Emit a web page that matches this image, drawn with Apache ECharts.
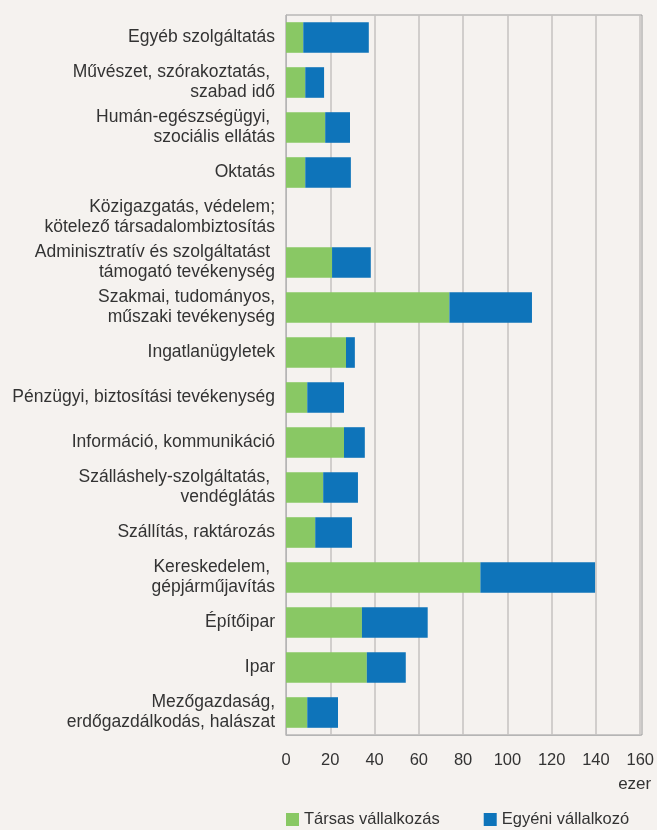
<!DOCTYPE html>
<html>
<head>
<meta charset="utf-8">
<script src="https://cdn.jsdelivr.net/npm/echarts@6/dist/echarts.min.js"></script>
<style>
html,body{margin:0;padding:0;background:#f5f2ef;}
#chart{width:657px;height:830px;}
</style>
</head>
<body>
<div id="chart"></div>
<script>
// kategóriák fentről lefelé
const categories = [
  "Egyéb szolgáltatás",
  "Művészet, szórakoztatás, \nszabad idő",
  "Humán-egészségügyi, \nszociális ellátás",
  "Oktatás",
  "Közigazgatás, védelem;\nkötelező társadalombiztosítás",
  "Adminisztratív és szolgáltatást \ntámogató tevékenység",
  "Szakmai, tudományos,\nműszaki tevékenység",
  "Ingatlanügyletek",
  "Pénzügyi, biztosítási tevékenység",
  "Információ, kommunikáció",
  "Szálláshely-szolgáltatás, \nvendéglátás",
  "Szállítás, raktározás",
  "Kereskedelem, \ngépjárműjavítás",
  "Építőipar",
  "Ipar",
  "Mezőgazdaság,\nerdőgazdálkodás, halászat"
];
const tarsas = [7.8, 8.7, 17.7, 8.7, 0, 20.8, 73.8, 27.1, 9.6, 26.2, 16.8, 13.2, 87.8, 34.3, 36.5, 9.6];
const egyeni = [29.6, 8.5, 11.2, 20.6, 0, 17.5, 37.3, 4.0, 16.6, 9.4, 15.7, 16.6, 51.8, 29.7, 17.6, 13.9];
const xTicks = [0, 20, 40, 60, 80, 100, 120, 140, 160];

const font = "'Liberation Sans', Arial, sans-serif";
let myChart = echarts.init(document.getElementById("chart"));
myChart.setOption({
  backgroundColor: "#f5f2ef",
  animation: false,
  grid: { left: 286, right: 15, top: 15, bottom: 95 },
  xAxis: {
    type: "value",
    min: xTicks[0],
    max: xTicks[xTicks.length - 1],
    interval: 20,
    name: "ezer",
    nameLocation: "end",
    nameGap: 11,
    nameTextStyle: { color: "#333", fontFamily: font, fontSize: 17, align: "right", verticalAlign: "top", padding: [41, 0, 0, 0] },
    axisLine: { show: true, lineStyle: { color: "#b5b5b5" } },
    axisTick: { show: false },
    axisLabel: { color: "#333", fontFamily: font, fontSize: 16.5, margin: 17 },
    splitLine: { show: true, lineStyle: { color: "#c4c2c0", width: 1.5 } }
  },
  yAxis: {
    type: "category",
    inverse: true,
    data: categories,
    axisLine: { show: true, lineStyle: { color: "#b5b5b5" } },
    axisTick: { show: false },
    axisLabel: { color: "#333", fontFamily: font, fontSize: 17.5, lineHeight: 20, margin: 11, align: "right" }
  },
  legend: {
    top: 806,
    left: 281,
    itemWidth: 13,
    itemHeight: 13,
    itemGap: 44,
    icon: "rect",
    textStyle: { color: "#333", fontFamily: font, fontSize: 16.5 },
    data: ["Társas vállalkozás", "Egyéni vállalkozó"]
  },
  series: [
    {
      name: "Társas vállalkozás",
      type: "bar",
      stack: "total",
      barWidth: "68%",
      itemStyle: { color: "#89c864" },
      data: tarsas
    },
    {
      name: "Egyéni vállalkozó",
      type: "bar",
      stack: "total",
      barWidth: "68%",
      itemStyle: { color: "#0e74ba" },
      data: egyeni
    }
  ],
  graphic: [
    {
      type: "rect",
      silent: true,
      shape: { x: 286, y: 15, width: 356, height: 720 },
      style: { fill: null, stroke: "#9a9a9a", lineWidth: 1 }
    }
  ]
});
</script>
</body>
</html>
